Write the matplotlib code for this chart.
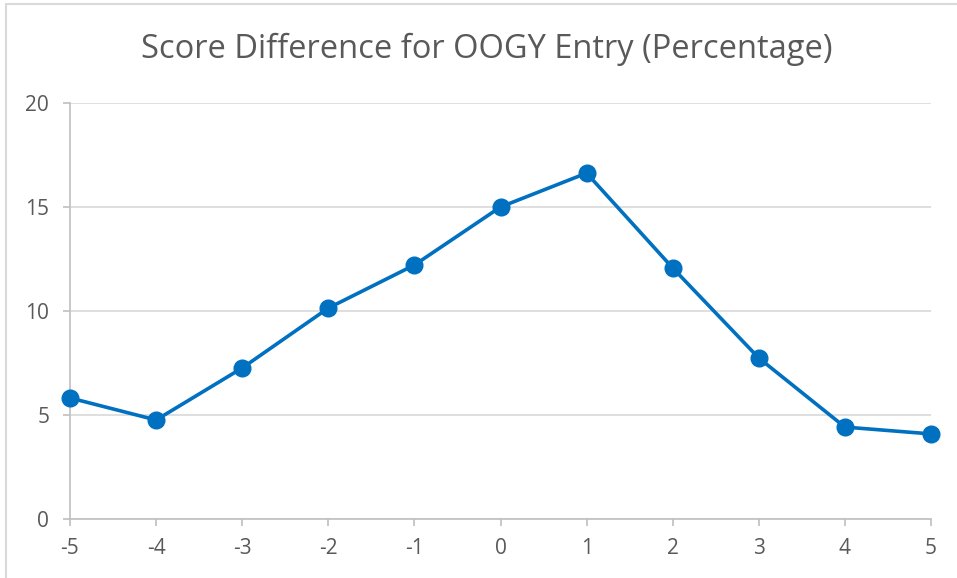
import matplotlib.pyplot as plt
from matplotlib.patches import Rectangle

# data
x_vals = [-5, -4, -3, -2, -1, 0, 1, 2, 3, 4, 5]
y_vals = [5.82, 4.76, 7.26, 10.14, 12.21, 15.0, 16.63, 12.07, 7.74, 4.42, 4.09]
y_ticks = [0, 5, 10, 15, 20]
title = "Score Difference for OOGY Entry (Percentage)"

plt.rcParams["font.family"] = ["Open Sans", "DejaVu Sans"]

fig = plt.figure(figsize=(9.57, 5.78), dpi=100)
ax = fig.add_axes([70 / 957, 1 - 519 / 578, (931 - 70) / 957, (519 - 103) / 578])

# chart border (only top/left visible in the crop)
fig.patches.append(Rectangle((6 / 957, -0.1), 1.2, 1.1 - 4 / 578, transform=fig.transFigure,
                             fill=False, edgecolor="#D9D9D9", linewidth=1.5))

ax.plot(x_vals, y_vals, color="#0070C0", linewidth=2.6, marker="o", markersize=12,
        solid_capstyle="round", zorder=3, clip_on=False)

ax.set_xlim(-5, 5)
ax.set_ylim(0, 20)
ax.set_xticks(x_vals)
ax.set_xticklabels([str(v) for v in x_vals])
ax.set_yticks(y_ticks)

ax.grid(axis="y", color="#D9D9D9", linewidth=1.2)
ax.set_axisbelow(True)
for s in ["top", "right"]:
    ax.spines[s].set_visible(False)
for s in ["left", "bottom"]:
    ax.spines[s].set_color("#BFBFBF")
    ax.spines[s].set_linewidth(1.2)

ax.tick_params(axis="both", colors="#BFBFBF", labelcolor="#595959", labelsize=15,
               length=5, width=1.2)
ax.tick_params(axis="x", pad=9)
ax.tick_params(axis="y", pad=10)

fig.text(487 / 957, 1 - 49 / 578, title, ha="center", va="center",
         fontsize=23.5, color="#595959")

fig.savefig("out.png", dpi=100)
